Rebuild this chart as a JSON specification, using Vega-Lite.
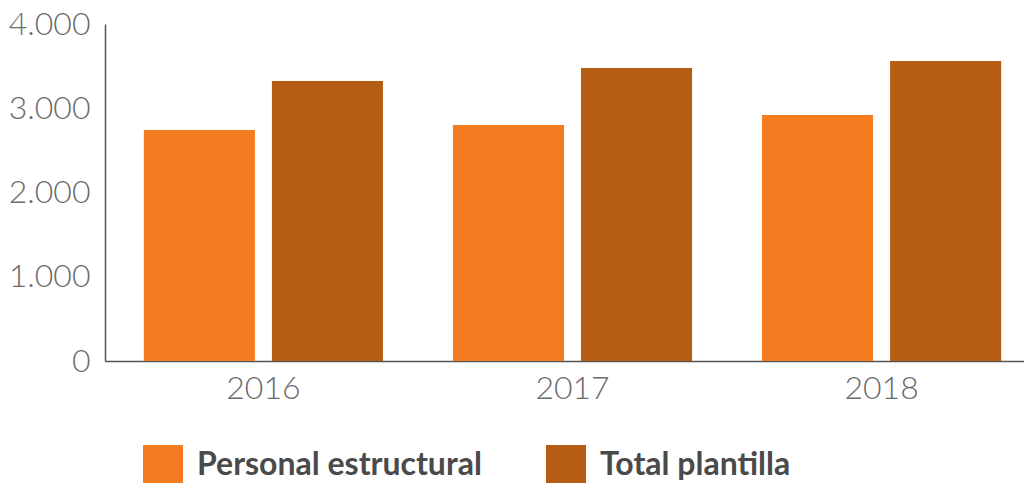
{
  "$schema": "https://vega.github.io/schema/vega-lite/v6.json",
  "autosize": {"type": "none"},
  "width": 919,
  "height": 337,
  "padding": {"left": 105, "top": 24, "right": 0, "bottom": 122},
  "background": "white",
  "data": {
    "values": [
      {"year": "2016", "series": "Personal estructural", "value": 2742},
      {"year": "2016", "series": "Total plantilla", "value": 3323},
      {"year": "2017", "series": "Personal estructural", "value": 2801},
      {"year": "2017", "series": "Total plantilla", "value": 3478},
      {"year": "2018", "series": "Personal estructural", "value": 2920},
      {"year": "2018", "series": "Total plantilla", "value": 3561}
    ]
  },
  "mark": {"type": "bar"},
  "encoding": {
    "x": {
      "field": "year", "type": "nominal",
      "scale": {"range": [0, 935], "paddingInner": 0, "paddingOuter": 0.0125},
      "axis": {
        "title": null, "labelAngle": 0, "ticks": false, "grid": false,
        "domainColor": "#555555", "domainWidth": 1.5,
        "labelFont": "Lato", "labelFontWeight": 300, "labelFontSize": 32,
        "labelColor": "#6b6b6b", "labelPadding": 12
      }
    },
    "xOffset": {
      "field": "series", "type": "nominal",
      "scale": {"paddingInner": 0.133, "paddingOuter": 0.273}
    },
    "y": {
      "field": "value", "type": "quantitative",
      "scale": {"domain": [0, 4000]},
      "axis": {
        "title": null, "values": [0, 1000, 2000, 3000, 4000], "ticks": false, "grid": false,
        "domainColor": "#555555", "domainWidth": 1.5,
        "labelExpr": "replace(format(datum.value, ','), ',', '.')",
        "labelFont": "Lato", "labelFontWeight": 300, "labelFontSize": 32,
        "labelColor": "#6b6b6b", "labelPadding": 15
      }
    },
    "color": {
      "field": "series", "type": "nominal",
      "scale": {"domain": ["Personal estructural", "Total plantilla"], "range": ["#F47B20", "#B55D13"]},
      "legend": {
        "title": null, "orient": "none", "direction": "horizontal",
        "legendX": 38, "legendY": 421, "padding": 0,
        "symbolType": "square", "symbolSize": 1600, "symbolStrokeWidth": 0, "symbolOpacity": 1,
        "labelFont": "Lato", "labelFontWeight": "bold", "labelFontSize": 32,
        "labelColor": "#4a4a4a", "labelOffset": 14, "columnPadding": 64,
        "labelLimit": 500
      }
    }
  },
  "config": {"view": {"stroke": null}}
}
